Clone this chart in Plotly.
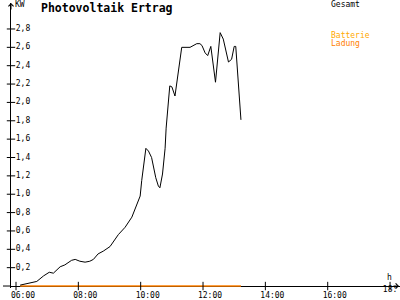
import plotly.graph_objects as go

DAY = "2024-06-01 "

times = ["06:08", "06:27", "06:40", "06:53", "07:04", "07:12", "07:25", "07:34", "07:47", "07:54",
         "08:03", "08:13", "08:22", "08:29", "08:38", "08:48", "09:01", "09:17", "09:30", "09:43",
         "09:49", "09:59", "10:02", "10:10", "10:15", "10:21", "10:29", "10:34", "10:37", "10:42",
         "10:47", "10:49", "10:56", "11:00", "11:06", "11:11", "11:19", "11:35", "11:41", "11:48",
         "11:54", "11:58", "12:04", "12:09", "12:15", "12:24", "12:33", "12:39", "12:49", "12:55",
         "13:00", "13:03", "13:13"]
gesamt = [0.01, 0.03, 0.05, 0.11, 0.15, 0.14, 0.21, 0.23, 0.28, 0.29,
          0.27, 0.26, 0.27, 0.29, 0.35, 0.38, 0.43, 0.56, 0.64, 0.75,
          0.83, 0.98, 1.15, 1.50, 1.47, 1.40, 1.18, 1.09, 1.07, 1.22,
          1.50, 1.72, 2.18, 2.17, 2.07, 2.26, 2.60, 2.60, 2.62, 2.64,
          2.64, 2.62, 2.54, 2.51, 2.61, 2.22, 2.76, 2.69, 2.44, 2.47,
          2.61, 2.61, 1.81]
ladung = [0.0] * len(times)

x_ticks = ["06:00", "08:00", "10:00", "12:00", "14:00", "16:00", "18:00"]
last_tick_text = "18:"  # cut off at the right edge in the original
y_ticks = [0.2, 0.4, 0.6, 0.8, 1.0, 1.2, 1.4, 1.6, 1.8, 2.0, 2.2, 2.4, 2.6, 2.8]
y_labels = [f"{v:.1f}".replace(".", ",") for v in y_ticks]

x_range = [DAY + "05:50:23", DAY + "18:19:09"]
y_range = [-0.0215, 3.083]

xs = [DAY + t for t in times]
FONT = "DejaVu Sans Mono"

fig = go.Figure()
fig.add_trace(go.Scatter(x=xs, y=ladung, mode="lines",
                         line=dict(color="#ff8000", width=1.6), hoverinfo="skip"))
fig.add_trace(go.Scatter(x=xs, y=gesamt, mode="lines",
                         line=dict(color="black", width=1), hoverinfo="skip"))
# tick marks crossing the axes
fig.add_trace(go.Scatter(x=[DAY + t for t in x_ticks], y=[0] * len(x_ticks), mode="markers",
                         marker=dict(symbol="line-ns", size=6, line=dict(color="black", width=1)),
                         cliponaxis=False, hoverinfo="skip"))
fig.add_trace(go.Scatter(x=[x_range[0]] * len(y_ticks), y=y_ticks, mode="markers+text",
                         text=y_labels, textposition="middle right",
                         textfont=dict(family=FONT, size=8, color="black"),
                         marker=dict(symbol="line-ew", size=6, line=dict(color="black", width=1)),
                         cliponaxis=False, hoverinfo="skip"))
# last x tick label (cut at the right edge in the original)
fig.add_trace(go.Scatter(x=[DAY + x_ticks[-1]], y=[0], mode="text", text=[last_tick_text],
                         textposition="bottom center",
                         textfont=dict(family=FONT, size=8, color="black"),
                         cliponaxis=False, hoverinfo="skip"))

fig.update_layout(
    width=400, height=300,
    margin=dict(l=11, r=0, t=3, b=8),
    paper_bgcolor="white", plot_bgcolor="white",
    showlegend=False,
    font=dict(family=FONT, size=8, color="black"),
    xaxis=dict(type="date", range=x_range, tickvals=[DAY + t for t in x_ticks[:-1]],
               ticktext=x_ticks[:-1], showgrid=False, zeroline=False, showline=False,
               ticks="", ticklabeloverflow="allow", ticklabelstandoff=1, ticklabelshift=7,
               tickfont=dict(family=FONT, size=8, color="black")),
    yaxis=dict(range=y_range, showticklabels=False, showgrid=False,
               zeroline=True, zerolinecolor="black", zerolinewidth=1,
               showline=True, linecolor="black", linewidth=1, ticks=""),
)

pw, ph = 389.0, 289.0
def px(xp):
    return (xp - 11) / pw
def py(yp):
    return (292 - yp) / ph

ann = [
    dict(text="<b>Photovoltaik Ertrag</b>", x=px(39), y=py(8.5), size=11.5, color="black"),
    dict(text="KW", x=px(13), y=py(5), size=8, color="black"),
    dict(text="Gesamt", x=px(329), y=py(5), size=8, color="black"),
    dict(text="Batterie", x=px(329), y=py(36), size=8, color="#ffa800"),
    dict(text="Ladung", x=px(329), y=py(44), size=8, color="#ff8000"),
    dict(text="h", x=px(385), y=py(281), size=8, color="black"),
]
for a in ann:
    fig.add_annotation(text=a["text"], x=a["x"], y=a["y"], xref="paper", yref="paper",
                       xanchor="left", yanchor="middle", showarrow=False,
                       font=dict(family=FONT, size=a["size"], color=a["color"]))

# axis arrows
fig.add_annotation(x=0, y=1, xref="paper", yref="paper", ax=0, ay=8, text="",
                   showarrow=True, arrowhead=4, arrowsize=1, arrowwidth=1, arrowcolor="black")
fig.add_annotation(x=1, y=py(290), xref="paper", yref="paper", ax=-8, ay=0, text="",
                   showarrow=True, arrowhead=4, arrowsize=1, arrowwidth=1, arrowcolor="black")
# extend x axis line slightly left of y axis
fig.add_shape(type="line", xref="paper", yref="y", x0=px(3), x1=px(11), y0=0, y1=0,
              line=dict(color="black", width=1))

fig.write_html("out.html")
